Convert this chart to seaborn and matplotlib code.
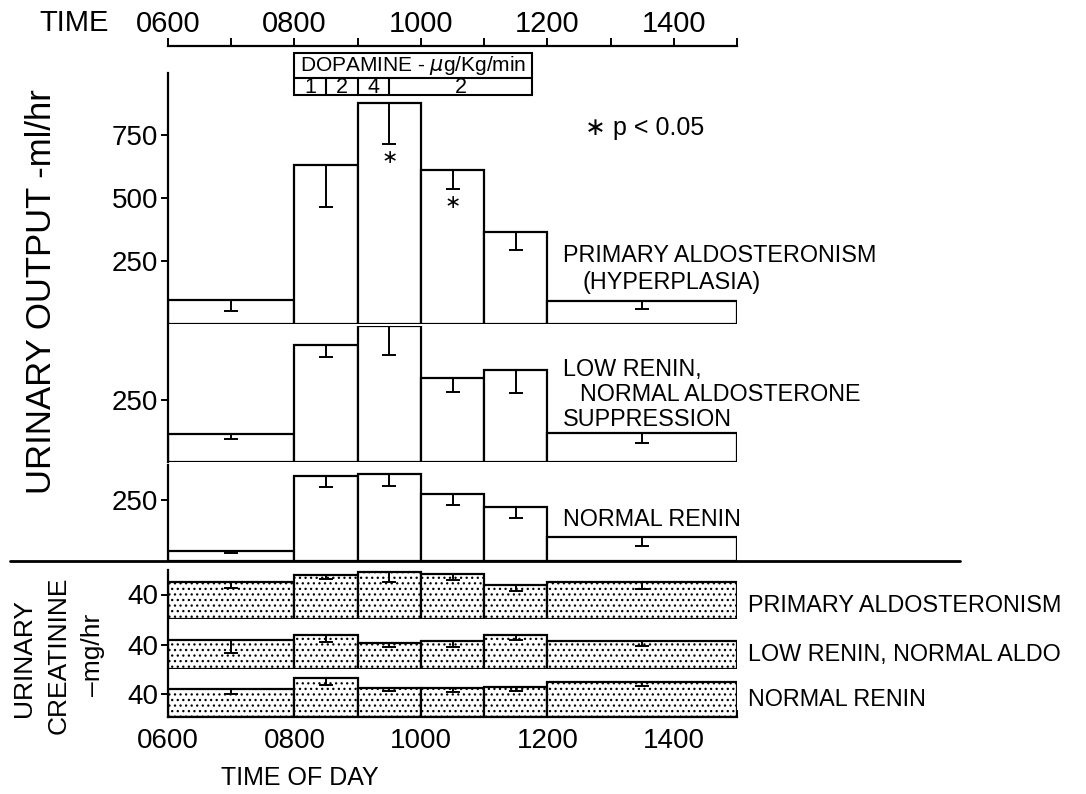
import numpy as np
import pandas as pd
import matplotlib
matplotlib.use("Agg")
import matplotlib.pyplot as plt
import matplotlib.transforms as mtransforms
from matplotlib.lines import Line2D
from matplotlib.patches import Rectangle
import seaborn as sns

sns.set_theme(style="white", rc={"axes.edgecolor": "black", "xtick.color": "black",
                                 "ytick.color": "black", "text.color": "black",
                                 "axes.linewidth": 1.6, "hatch.linewidth": 0.9})
plt.rcParams['font.family'] = ['Liberation Sans', 'DejaVu Sans']

# ---------------- data ----------------
period_edges = [6, 8, 9, 10, 11, 12, 15]          # collection periods (hours)
time_ticks = [6, 8, 10, 12, 14]
time_labels = ["0600", "0800", "1000", "1200", "1400"]
hour_ticks = [7, 9, 11, 13, 15]

urine_primary = [95, 630, 878, 612, 366, 93]
urine_primary_err = [45, 165, 164, 77, 72, 35]
urine_primary_sig = [False, False, True, True, False, False]
urine_lowrenin = [115, 474, 550, 339, 372, 119]
urine_lowrenin_err = [23, 47, 116, 53, 92, 40]
urine_normal = [42, 346, 357, 274, 222, 100]
urine_normal_err = [10, 45, 52, 46, 46, 38]

creat_primary = [60, 72, 76, 73, 55, 60]
creat_primary_err = [9, 7, 16, 10, 10, 11]
creat_lowrenin = [48, 57, 43, 46, 57, 46]
creat_lowrenin_err = [21, 12, 7, 9, 9, 7]
creat_normal = [47, 66, 49, 49, 51, 59]
creat_normal_err = [8, 11, 5, 6, 6, 7]

dopamine_start = [8, 8.5, 9, 9.5]
dopamine_end = [8.5, 9, 9.5, 11.75]
dopamine_dose = ["1", "2", "4", "2"]

# ---------------- layout ----------------
W, H = 1086, 794
fig = plt.figure(figsize=(W / 100, H / 100), dpi=100)
X0, X1 = 168, 737


def rect(ytop, ybot):
    return [X0 / W, 1 - ybot / H, (X1 - X0) / W, (ybot - ytop) / H]


mids = [(a + b) / 2 for a, b in zip(period_edges[:-1], period_edges[1:])]


def draw_panel(ax, vals, errs, ymax, yticks, hatch=None):
    df = pd.DataFrame({"t": mids, "v": vals})
    sns.histplot(data=df, x="t", weights="v", bins=period_edges, ax=ax,
                 color="white", edgecolor="black", linewidth=1.6, alpha=1,
                 stat="count", zorder=2)
    for p in ax.patches:
        p.set_facecolor("white")
        if hatch:
            p.set_hatch(hatch)
    ax.errorbar(mids, vals, yerr=[errs, np.zeros(len(errs))], fmt="none",
                ecolor="black", elinewidth=1.4, capsize=5, capthick=1.4, zorder=3)
    ax.set_xlim(period_edges[0], period_edges[-1])
    ax.set_ylim(0, ymax)
    ax.set_yticks(yticks)
    ax.tick_params(axis="y", direction="out", length=5, width=1.4, labelsize=20, pad=2, left=True)
    ax.set_xticks([])
    ax.set_xlabel("")
    ax.set_ylabel("")
    for s in ["top", "right", "bottom"]:
        ax.spines[s].set_visible(False)
    ax.patch.set_alpha(0)


ax1 = fig.add_axes(rect(73, 324))
draw_panel(ax1, urine_primary, urine_primary_err, 996, [250, 500, 750])
for m, v, e, s in zip(mids, urine_primary, urine_primary_err, urine_primary_sig):
    if s:
        ax1.annotate("∗", (m, v - e), xytext=(0, -3), textcoords="offset points",
                     ha="center", va="top", fontsize=14, family=["DejaVu Sans"])

ax2 = fig.add_axes(rect(326, 462))
draw_panel(ax2, urine_lowrenin, urine_lowrenin_err, 552, [250])

ax3 = fig.add_axes(rect(465, 561))
draw_panel(ax3, urine_normal, urine_normal_err, 393, [250])

c1 = fig.add_axes(rect(570, 619))
draw_panel(c1, creat_primary, creat_primary_err, 80, [40], hatch="...")
c2 = fig.add_axes(rect(621, 669))
draw_panel(c2, creat_lowrenin, creat_lowrenin_err, 80, [40], hatch="...")
c3 = fig.add_axes(rect(670, 717))
draw_panel(c3, creat_normal, creat_normal_err, 80, [40], hatch="...")
c3.spines["bottom"].set_visible(True)
c3.set_xticks(time_ticks)
c3.set_xticklabels(time_labels)
c3.set_xticks(hour_ticks, minor=True)
c3.tick_params(axis="x", which="both", direction="in", length=5, width=1.4,
               labelsize=20, pad=8, bottom=True)

# top time axis
axt = fig.add_axes([X0 / W, 1 - 46 / H, (X1 - X0) / W, 0.0001])
axt.set_xlim(period_edges[0], period_edges[-1])
axt.set_yticks([])
for s in ["bottom", "left", "right"]:
    axt.spines[s].set_visible(False)
axt.xaxis.tick_top()
axt.set_xticks(time_ticks)
axt.set_xticklabels(time_labels)
axt.set_xticks(hour_ticks, minor=True)
axt.tick_params(axis="x", which="both", direction="out", length=6, width=1.4,
                labelsize=21, pad=0, top=True, bottom=False)
axt.patch.set_alpha(0)
fig.text(74 / W, 1 - 23 / H, "TIME", ha="center", va="center", fontsize=21)

# dopamine box
tr = mtransforms.blended_transform_factory(ax1.transData, fig.transFigure)
yb, ym, yt = 1 - 95 / H, 1 - 77.5 / H, 1 - 53 / H
x_a, x_b = dopamine_start[0], dopamine_end[-1]
fig.add_artist(Rectangle((x_a, yb), x_b - x_a, yt - yb, transform=tr, fill=False,
                         edgecolor="black", lw=1.5))
fig.add_artist(Line2D([x_a, x_b], [ym, ym], transform=tr, color="black", lw=1.5))
for s0, s1, d in zip(dopamine_start, dopamine_end, dopamine_dose):
    if s0 > x_a:
        fig.add_artist(Line2D([s0, s0], [yb, ym], transform=tr, color="black", lw=1.5))
    fig.text((s0 + s1) / 2, (yb + ym) / 2 - 0.001, d, transform=tr, ha="center", va="center",
             fontsize=15.5)
fig.text((x_a + x_b) / 2, (ym + yt) / 2, "DOPAMINE - $\\mu$g/Kg/min", transform=tr,
         ha="center", va="center", fontsize=15)

fig.text(585 / W, 1 - 128 / H, "∗ p < 0.05", ha="left", va="center", fontsize=18)

# group labels
lab = dict(ha="left", va="center", fontsize=16.8)
fig.text(563 / W, 1 - 255 / H, "PRIMARY ALDOSTERONISM", **lab)
fig.text(583 / W, 1 - 283 / H, "(HYPERPLASIA)", **lab)
fig.text(563 / W, 1 - 370 / H, "LOW RENIN,", **lab)
fig.text(580 / W, 1 - 395 / H, "NORMAL ALDOSTERONE", **lab)
fig.text(563 / W, 1 - 420 / H, "SUPPRESSION", **lab)
fig.text(563 / W, 1 - 520 / H, "NORMAL RENIN", **lab)
fig.text(748 / W, 1 - 605 / H, "PRIMARY ALDOSTERONISM", **lab)
fig.text(748 / W, 1 - 655 / H, "LOW RENIN, NORMAL ALDO", **lab)
fig.text(748 / W, 1 - 700 / H, "NORMAL RENIN", **lab)

# axis titles
fig.text(42 / W, 1 - 292 / H, "URINARY OUTPUT -ml/hr", rotation=90, ha="center",
         va="center", fontsize=25)
fig.text(24 / W, 1 - 658 / H, "URINARY", rotation=90, ha="center", va="center", fontsize=19)
fig.text(59 / W, 1 - 655 / H, "CREATININE", rotation=90, ha="center", va="center", fontsize=19)
fig.text(93 / W, 1 - 655 / H, "\u2013mg/hr", rotation=90, ha="center", va="center", fontsize=19)
fig.text(300 / W, 1 - 778 / H, "TIME OF DAY", ha="center", va="center", fontsize=18)

fig.add_artist(Line2D([10 / W, 960 / W], [1 - 561 / H] * 2, color="black", lw=2))

fig.savefig("out.png", dpi=100)
